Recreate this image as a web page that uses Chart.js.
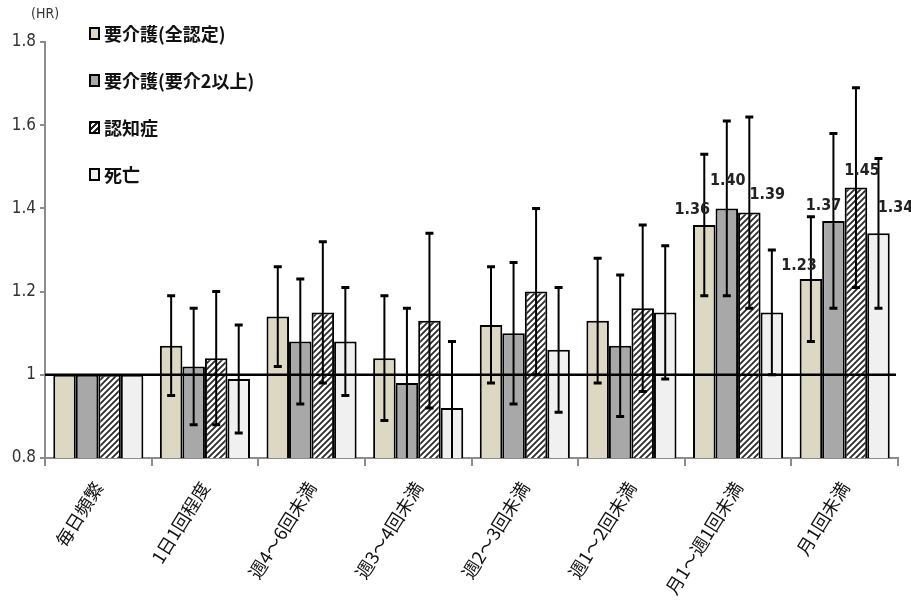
<!DOCTYPE html>
<html lang="ja">
<head>
<meta charset="utf-8">
<script src="https://cdn.jsdelivr.net/npm/chart.js@4.4.1/dist/chart.umd.min.js"></script>
<style>
  html, body { margin: 0; padding: 0; background: #fff; }
  #wrap { position: relative; width: 911px; height: 612px; }
  #legend { position: absolute; left: 89px; top: 20px; font-family: 'Noto Sans CJK JP', sans-serif; font-size: 18px; font-weight: 700; color: #111; }
  #legend .item { height: 47px; line-height: 26px; display: flex; align-items: flex-start; }
  #legend .box { width: 7px; height: 9px; border: 2.5px solid #000; margin: 7px 4px 0 0; flex: none; }
  #hr { position: absolute; left: 31px; top: 5px; font-family: 'Liberation Sans Narrow', 'DejaVu Sans Condensed', 'Liberation Sans', sans-serif; font-size: 14px; color: #333; }
</style>
</head>
<body>
<div id="wrap">
  <canvas id="grafico" width="911" height="612"></canvas>
  <div id="hr">(HR)</div>
  <div id="legend"></div>
</div>
<script>
// --- datos ---
const categorias = ['毎日頻繁', '1日1回程度', '週4～6回未満', '週3～4回未満', '週2～3回未満', '週1～2回未満', '月1～週1回未満', '月1回未満'];
const series = ['要介護(全認定)', '要介護(要介2以上)', '認知症', '死亡'];

const hrCuidadoTotal = [1.00, 1.07, 1.14, 1.04, 1.12, 1.13, 1.36, 1.23];
const hrCuidado2 = [1.00, 1.02, 1.08, 0.98, 1.10, 1.07, 1.40, 1.37];
const hrDemencia = [1.00, 1.04, 1.15, 1.13, 1.20, 1.16, 1.39, 1.45];
const hrMuerte = [1.00, 0.99, 1.08, 0.92, 1.06, 1.15, 1.15, 1.34];

const icInfCuidadoTotal = [null, 0.95, 1.02, 0.89, 0.98, 0.98, 1.19, 1.08];
const icSupCuidadoTotal = [null, 1.19, 1.26, 1.19, 1.26, 1.28, 1.53, 1.38];
const icInfCuidado2 = [null, 0.88, 0.93, 0.78, 0.93, 0.90, 1.19, 1.16];
const icSupCuidado2 = [null, 1.16, 1.23, 1.16, 1.27, 1.24, 1.61, 1.58];
const icInfDemencia = [null, 0.88, 0.98, 0.92, 1.00, 0.96, 1.16, 1.21];
const icSupDemencia = [null, 1.20, 1.32, 1.34, 1.40, 1.36, 1.62, 1.69];
const icInfMuerte = [null, 0.86, 0.95, 0.78, 0.91, 0.99, 1.00, 1.16];
const icSupMuerte = [null, 1.12, 1.21, 1.08, 1.21, 1.31, 1.30, 1.52];

// qué barras llevan la etiqueta con el valor
const etiquetaCuidadoTotal = [false, false, false, false, false, false, true, true];
const etiquetaCuidado2 = [false, false, false, false, false, false, true, true];
const etiquetaDemencia = [false, false, false, false, false, false, true, true];
const etiquetaMuerte = [false, false, false, false, false, false, false, true];

const ticksY = [0.8, 1, 1.2, 1.4, 1.6, 1.8];

const valores = [hrCuidadoTotal, hrCuidado2, hrDemencia, hrMuerte];
const icInf = [icInfCuidadoTotal, icInfCuidado2, icInfDemencia, icInfMuerte];
const icSup = [icSupCuidadoTotal, icSupCuidado2, icSupDemencia, icSupMuerte];
const etiquetas = [etiquetaCuidadoTotal, etiquetaCuidado2, etiquetaDemencia, etiquetaMuerte];

// pequeños desplazamientos de las etiquetas (serie-categoría: [dx, dy]), como en el original
const ajusteEtiquetas = {
    '0-6': [-12, -7], '1-6': [1, -20], '2-6': [18, -10],
    '0-7': [-12, -5], '1-7': [-10, -7], '2-7': [6, -9], '3-7': [17, -18]
};

// --- estilos ---
function patronRayado() {
    const c = document.createElement('canvas');
    c.width = 6; c.height = 6;
    const g = c.getContext('2d');
    g.fillStyle = '#fff';
    g.fillRect(0, 0, 6, 6);
    g.strokeStyle = '#2a2a2a';
    g.lineWidth = 1.8;
    g.beginPath();
    g.moveTo(-1, 7); g.lineTo(7, -1);
    g.moveTo(-4, 4); g.lineTo(4, -4);
    g.moveTo(2, 10); g.lineTo(10, 2);
    g.stroke();
    return g.createPattern(c, 'repeat');
}

const colores = ['#dcd8c3', '#a8a8a8', patronRayado(), '#f0f0f0'];
const coloresLeyenda = ['#dcd8c3', '#a8a8a8', 'repeating-linear-gradient(-45deg, #fff 0 2px, #222 2px 4px)', '#f0f0f0'];
const fuenteNum = "'Liberation Sans Narrow', 'DejaVu Sans Condensed', 'Liberation Sans', sans-serif";

// leyenda en HTML
const leyenda = document.getElementById('legend');
series.forEach((nombre, i) => {
    const item = document.createElement('div');
    item.className = 'item';
    item.innerHTML = `<span class="box" style="background:${coloresLeyenda[i]}"></span><span>${nombre}</span>`;
    leyenda.appendChild(item);
});

// --- plugin: línea HR=1, intervalos de confianza y etiquetas ---
const extras = {
    id: 'extras',
    afterDatasetsDraw(chart) {
        const { ctx, chartArea, scales: { y } } = chart;
        ctx.save();
        ctx.beginPath();
        ctx.rect(chartArea.left, chartArea.top - 20, chartArea.width, chartArea.height + 20);
        ctx.clip();

        // línea de referencia
        const y1 = y.getPixelForValue(1);
        ctx.strokeStyle = '#000';
        ctx.lineWidth = 2.5;
        ctx.beginPath();
        ctx.moveTo(chartArea.left, y1);
        ctx.lineTo(chartArea.right - 2, y1);
        ctx.stroke();

        // barras de error
        chart.data.datasets.forEach((ds, i) => {
            const meta = chart.getDatasetMeta(i);
            meta.data.forEach((bar, j) => {
                const lo = icInf[i][j], hi = icSup[i][j];
                if (lo == null || hi == null) return;
                const yLo = y.getPixelForValue(lo);
                const yHi = y.getPixelForValue(hi);
                ctx.lineWidth = 2;
                ctx.beginPath();
                ctx.moveTo(bar.x, yLo);
                ctx.lineTo(bar.x, yHi);
                ctx.stroke();
                ctx.lineWidth = 3;
                ctx.beginPath();
                ctx.moveTo(bar.x - 4, yLo); ctx.lineTo(bar.x + 4, yLo);
                ctx.moveTo(bar.x - 4, yHi); ctx.lineTo(bar.x + 4, yHi);
                ctx.stroke();
            });
        });
        ctx.restore();

        // valores sobre las barras
        ctx.save();
        ctx.font = `bold 16px ${fuenteNum}`;
        ctx.fillStyle = '#222';
        ctx.textAlign = 'center';
        ctx.textBaseline = 'bottom';
        chart.data.datasets.forEach((ds, i) => {
            const meta = chart.getDatasetMeta(i);
            meta.data.forEach((bar, j) => {
                if (!etiquetas[i][j]) return;
                const [dx, dy] = ajusteEtiquetas[i + '-' + j] || [0, -8];
                ctx.fillText(valores[i][j].toFixed(2), bar.x + dx, bar.y + dy);
            });
        });
        ctx.restore();
    }
};

new Chart(document.getElementById('grafico').getContext('2d'), {
    type: 'bar',
    data: {
        labels: categorias,
        datasets: series.map((nombre, i) => ({
            label: nombre,
            data: valores[i],
            backgroundColor: colores[i],
            borderColor: '#000',
            borderWidth: 2,
            categoryPercentage: 0.845,
            barPercentage: 1.0
        }))
    },
    options: {
        responsive: false,
        animation: false,
        events: [],
        layout: { padding: { top: 42, right: 13, left: 0, bottom: 0 } },
        plugins: { legend: { display: false }, tooltip: { enabled: false } },
        scales: {
            y: {
                min: 0.8,
                max: 1.8,
                afterBuildTicks: (scale) => { scale.ticks = ticksY.map(v => ({ value: v })); },
                afterFit: (scale) => { scale.width = 45; },
                border: { color: '#8c8c8c', width: 2 },
                grid: { drawOnChartArea: false, drawTicks: true, tickLength: 5, color: '#8c8c8c', lineWidth: 2 },
                ticks: {
                    padding: 4,
                    color: '#333',
                    font: { family: fuenteNum, size: 17 },
                    callback: (v) => String(v)
                }
            },
            x: {
                afterFit: (scale) => { scale.height = 154; },
                border: { color: '#8c8c8c', width: 2 },
                grid: { offset: true, drawOnChartArea: false, drawTicks: true, tickLength: 8, color: '#8c8c8c', lineWidth: 2 },
                ticks: {
                    minRotation: 58,
                    maxRotation: 58,
                    padding: 12,
                    color: '#111',
                    font: { family: "'Noto Sans CJK JP', sans-serif", size: 18 }
                }
            }
        }
    },
    plugins: [extras]
});
</script>
</body>
</html>
